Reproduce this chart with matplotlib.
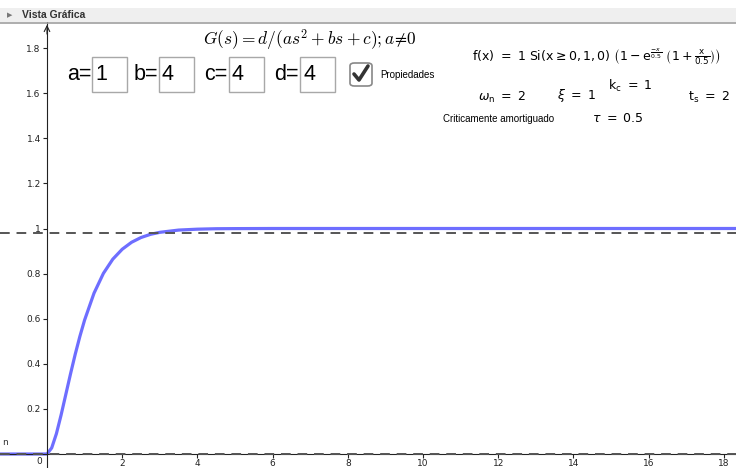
import matplotlib
matplotlib.use("Agg")
import matplotlib.pyplot as plt
from matplotlib.patches import Rectangle, FancyBboxPatch
from matplotlib.lines import Line2D

# datos (respuesta al escalon, criticamente amortiguado)
t_vals = [-1.25, 0.0, 0.125, 0.25, 0.375, 0.5, 0.625, 0.75, 0.875, 1.0, 1.25, 1.5,
          1.75, 2.0, 2.25, 2.5, 2.75, 3.0, 3.5, 4.0, 4.5, 5.0, 6.0, 8.0, 10.0,
          12.0, 14.0, 16.0, 18.4]
y_vals = [0.0, 0.0, 0.027, 0.090, 0.173, 0.264, 0.355, 0.442, 0.522, 0.594, 0.713,
          0.801, 0.864, 0.908, 0.939, 0.960, 0.974, 0.983, 0.993, 0.997, 0.999,
          0.9995, 1.0, 1.0, 1.0, 1.0, 1.0, 1.0, 1.0]
banda = [0.98, 0.0]   # lineas discontinuas
xticks = [2, 4, 6, 8, 10, 12, 14, 16, 18]
yticks = [0.2, 0.4, 0.6, 0.8, 1, 1.2, 1.4, 1.6, 1.8]
ytick_labels = ["0.2", "0.4", "0.6", "0.8", "1", "1.2", "1.4", "1.6", "1.8"]

W, H = 736, 468
fig = plt.figure(figsize=(W / 100, H / 100), dpi=100)


def fx(px):
    return px / W


def fy(py):
    return 1 - py / H


# area del grafico (debajo de la barra de titulo)
ax = fig.add_axes([0, 0, 1, fy(22)])
ax.set_xlim(-47 / 37.6, (W - 47) / 37.6)
ax.set_ylim(-14 / 225.5, (454 - 22) / 225.5)

for y in banda:
    ax.axhline(y, color="#555555", lw=1.4, dashes=(5, 3.5), zorder=3)
ax.plot(t_vals, y_vals, color="#6e6eff", lw=2.3, solid_capstyle="round", zorder=2)

# ejes al estilo GeoGebra
ax.spines["top"].set_visible(False)
ax.spines["right"].set_visible(False)
ax.spines["left"].set_position(("data", 0))
ax.spines["bottom"].set_position(("data", 0))
ax.spines["left"].set_color("#222222")
ax.spines["bottom"].set_color("#222222")
ax.set_xticks(xticks)
ax.set_yticks(yticks)
ax.set_yticklabels(ytick_labels)
ax.tick_params(axis="both", direction="out", length=3, width=0.8, colors="#222222",
               labelsize=6.5, pad=1.5)
ax.tick_params(axis="x", pad=0.5)
ax.text(-0.13, -0.012, "0", ha="right", va="top", fontsize=6.5, color="#222222")
ax.annotate("", xy=(0, ax.get_ylim()[1]), xytext=(0, 1.85),
            arrowprops=dict(arrowstyle="->", color="#222222", lw=0.8))
ax.text(-1.2, 0.04, "n", fontsize=6.5, color="#333333")

# barra de titulo "Vista Grafica"
fig.patches.append(Rectangle((0, fy(22)), 1, fy(8) - fy(22), transform=fig.transFigure,
                             facecolor="#efefef", edgecolor="none"))
fig.add_artist(Line2D([0, 1], [fy(22.5), fy(22.5)], color="#a0a0a0", lw=1.2))
fig.text(fx(7), fy(15), "\u25b6", fontsize=5, color="#777777", va="center")
fig.text(fx(22), fy(15), "Vista Gráfica", fontsize=7.5, weight="bold", color="#333333",
         va="center", family="Liberation Sans")

# formula G(s)
fig.text(fx(310), fy(40), r"$G(s) = d/(as^2 + bs + c);a\!\neq\!0$", fontsize=12.5,
         ha="center", va="center", math_fontfamily="cm")

# cajas de entrada
campos = [("a=", "1", 67, 92), ("b=", "4", 134, 159), ("c=", "4", 204, 229), ("d=", "4", 274, 300)]
for lab, val, xl, xb in campos:
    fig.text(fx(xl), fy(75), lab, fontsize=15.5, va="center", family="Liberation Sans")
    fig.patches.append(Rectangle((fx(xb), fy(92)), fx(35), fy(57) - fy(92),
                                 transform=fig.transFigure, facecolor="white",
                                 edgecolor="#a8a8a8", lw=1))
    fig.text(fx(xb + 3), fy(75), val, fontsize=15.5, va="center", family="Liberation Sans")

# casilla Propiedades
fig.patches.append(FancyBboxPatch((fx(350), fy(86)), fx(22), fy(63) - fy(86),
                                  boxstyle="round,pad=0,rounding_size=0.006",
                                  transform=fig.transFigure, facecolor="white",
                                  edgecolor="#888888", lw=1.2))
fig.add_artist(Line2D([fx(354), fx(359), fx(368)], [fy(74), fy(80), fy(66)],
                      color="#333333", lw=2.6, solid_capstyle="round"))
fig.text(fx(380), fy(75), "Propiedades", fontsize=7, va="center", family="Liberation Sans")

# propiedades del sistema
plt.rcParams["mathtext.fontset"] = "dejavusans"
fig.text(fx(472), fy(57),
         r"$\mathrm{f(x)\ =\ 1\ Si(x \geq 0, 1, 0)}\ \left(1 - \mathrm{e}^{\frac{-x}{0.5}}\ \left(1 + \frac{\mathrm{x}}{0.5}\right)\right)$",
         fontsize=9, va="center")
fig.text(fx(478), fy(97), r"$\omega_\mathrm{n}\ =\ 2$", fontsize=9, va="center")
fig.text(fx(557), fy(95), r"$\xi\ =\ 1$", fontsize=9, va="center")
fig.text(fx(608), fy(86), r"$\mathrm{k_c}\ =\ 1$", fontsize=9, va="center")
fig.text(fx(688), fy(97), r"$\mathrm{t_s}\ =\ 2$", fontsize=9, va="center")
fig.text(fx(443), fy(119), "Criticamente amortiguado", fontsize=7, va="center",
         family="Liberation Sans")
fig.text(fx(592), fy(119), r"$\tau\ =\ 0.5$", fontsize=9, va="center")

fig.savefig("out.png", dpi=100)
